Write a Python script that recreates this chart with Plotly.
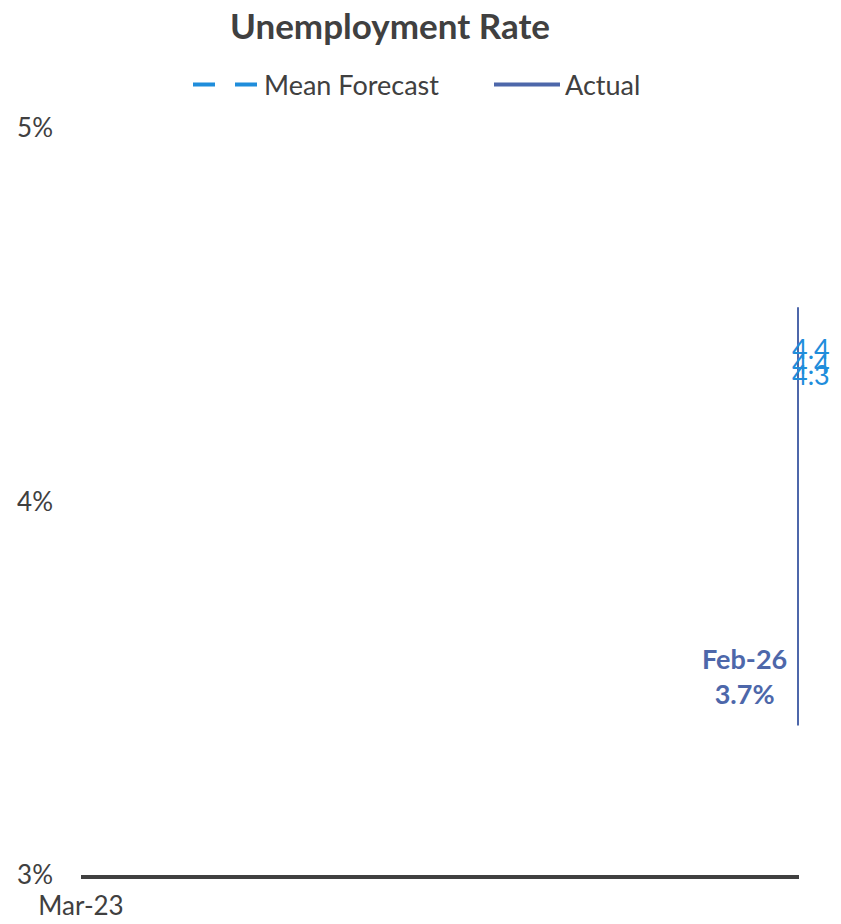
import plotly.graph_objects as go

# ---- data ----
months = ["Mar-23", "Apr-23", "May-23", "Jun-23", "Jul-23", "Aug-23", "Sep-23", "Oct-23",
          "Nov-23", "Dec-23", "Jan-24", "Feb-24", "Mar-24", "Apr-24", "May-24", "Jun-24",
          "Jul-24", "Aug-24", "Sep-24", "Oct-24", "Nov-24", "Dec-24", "Jan-25", "Feb-25",
          "Mar-25", "Apr-25", "May-25", "Jun-25", "Jul-25", "Aug-25", "Sep-25", "Oct-25",
          "Nov-25", "Dec-25", "Jan-26", "Feb-26"]
actual_values = [3.5, 3.4, 3.7, 3.6, 3.5, 3.8, 3.8, 3.9, 3.7, 3.7, 3.7, 3.9,
                 3.9, 3.9, 4.0, 4.1, 4.3, 4.2, 4.1, 4.1, 4.2, 4.2, 4.1, 4.0,
                 4.1, 4.2, 4.2, 4.1, 4.2, 4.3, 4.4, 4.52, 4.5, 4.4, 4.3, 3.7]
# all actual points were plotted on the last category in the source chart
actual_x = ["Feb-26"] * len(actual_values)
forecast_values = [4.41, 4.37, 4.34]
forecast_labels = ["4.4", "4.4", "4.3"]
forecast_x = ["Feb-26"] * len(forecast_values)
y_ticks = [3, 4, 5]
y_tick_labels = ["3%", "4%", "5%"]
x_tick_labels = ["Mar-23"]

FORECAST_COLOR = "#1F8DDB"
ACTUAL_COLOR = "#4D67AA"
TEXT_COLOR = "#404040"
FONT = "Lato"

# page body has an 8px margin, so the figure is slightly smaller than the window
W, H = 833, 916
PL, PR, PT, PB = 73, 42, 120, 49
PW = W - PL - PR
PH = H - PT - PB

fig = go.Figure()
fig.add_trace(go.Scatter(
    x=forecast_x, y=forecast_values, mode="lines", name="Mean Forecast",
    line=dict(color=FORECAST_COLOR, width=4, dash="22px,20px"),
))
fig.add_trace(go.Scatter(
    x=actual_x, y=actual_values, mode="lines", name="Actual",
    line=dict(color=ACTUAL_COLOR, width=4),
))

for xv, yv, lab in zip(forecast_x, forecast_values, forecast_labels):
    fig.add_annotation(x=xv, y=yv, text=lab, showarrow=False, xshift=12,
                       font=dict(family=FONT, size=27, color=FORECAST_COLOR))

fig.add_annotation(x=actual_x[-1], y=3.533,
                   text=f"<b>{months[-1]}<br>{actual_values[-1]:.1f}%</b>",
                   showarrow=False, xanchor="right", xshift=-10, align="center",
                   font=dict(family=FONT, size=27, color=ACTUAL_COLOR))

fig.update_layout(
    width=W, height=H,
    margin=dict(l=PL, r=PR, t=PT, b=PB),
    paper_bgcolor="white", plot_bgcolor="white",
    font=dict(family=FONT, color=TEXT_COLOR, size=26),
    title=dict(text="<b>Unemployment Rate</b>", x=382 / W, xanchor="center",
               y=1 - 19 / H, yanchor="middle", yref="container",
               font=dict(family=FONT, size=35, color=TEXT_COLOR)),
    showlegend=True,
    legend=dict(orientation="h", x=(180 - PL) / PW, xanchor="left",
                y=1 + 43 / PH, yanchor="middle",
                font=dict(family=FONT, size=27, color=TEXT_COLOR),
                itemwidth=66, entrywidth=220, bgcolor="rgba(0,0,0,0)"),
    xaxis=dict(type="category", categoryorder="array", categoryarray=months,
               range=[0, len(months) - 1], tickvals=x_tick_labels,
               ticktext=x_tick_labels, showgrid=False, zeroline=False,
               showline=True, linecolor=TEXT_COLOR, linewidth=4, ticks="",
               ticklabelstandoff=5, automargin=False,
               tickfont=dict(family=FONT, size=26, color=TEXT_COLOR)),
    yaxis=dict(range=[3, 5], tickvals=y_ticks, ticktext=y_tick_labels,
               showgrid=False, zeroline=False, showline=False, ticks="",
               ticklabelstandoff=27, automargin=False,
               tickfont=dict(family=FONT, size=26, color=TEXT_COLOR)),
)

fig.write_html("out.html")
